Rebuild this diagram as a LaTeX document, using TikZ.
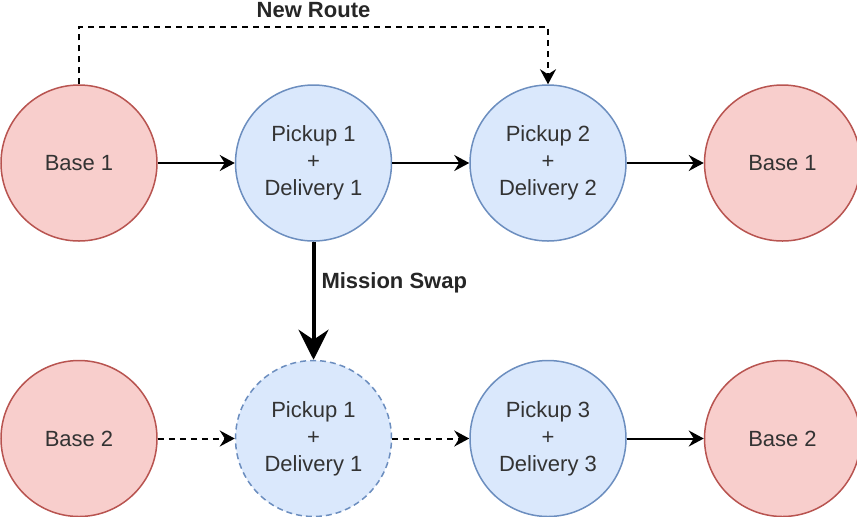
\documentclass[tikz,border=0pt]{standalone}
\usepackage{fontspec}
\setmainfont{Liberation Sans}
\usetikzlibrary{arrows.meta,positioning,calc}
\definecolor{homefill}{HTML}{F8CECC}
\definecolor{homedraw}{HTML}{B85450}
\definecolor{jobfill}{HTML}{DAE8FC}
\definecolor{jobdraw}{HTML}{6C8EBF}

\begin{document}
\begin{tikzpicture}[
    font=\fontsize{11}{13.5}\selectfont,
    text=black!80,
    node distance=59pt and 38.5pt,
    circbase/.style={circle, line width=0.75pt, minimum size=78pt, inner sep=0pt, align=center},
    home/.style={circbase, fill=homefill, draw=homedraw},
    job/.style={circbase, fill=jobfill, draw=jobdraw},
    jobghost/.style={job, dashed, dash pattern=on 3pt off 2pt},
    arrow/.style={-{Stealth[length=7.5pt, width=8pt, inset=2.5pt]}, line width=1pt, draw=black},
    dasharrow/.style={arrow, dash pattern=on 3pt off 2.5pt},
    swaparrow/.style={-{Stealth[length=15pt, width=15pt, inset=5pt]}, line width=2pt, draw=black},
    tag/.style={font=\fontsize{11}{13.5}\selectfont\bfseries, text=black!85, inner sep=0pt},
]
\useasboundingbox (0,0) rectangle (428.5pt,-258pt);
\node[home] (b1) at (39.5pt,-81.5pt) {Base 1};
\node[job, right=of b1]  (p1) {Pickup 1\\+\\Delivery 1};
\node[job, right=of p1]  (p2) {Pickup 2\\+\\Delivery 2};
\node[home, right=of p2] (e1) {Base 1};
\node[home, below=of b1] (b2) {Base 2};
\node[jobghost, below=of p1] (q1) {Pickup 1\\+\\Delivery 1};
\node[job, right=of q1]  (p3) {Pickup 3\\+\\Delivery 3};
\node[home, right=of p3] (e2) {Base 2};
% top route
\draw[arrow] (b1) -- (p1);
\draw[arrow] (p1) -- (p2);
\draw[arrow] (p2) -- (e1);
% reroute after swap
\coordinate (rt) at ([yshift=28.5pt]b1.north);
\draw[dasharrow] (b1.north) -- (rt) -| (p2.north);
\node[tag, anchor=base] at ([yshift=5pt]rt -| p1) {New Route};
\draw[swaparrow] (p1) -- node[tag, pos=0.35, right=3pt] {Mission Swap} (q1);
% bottom route
\draw[dasharrow] (b2) -- (q1);
\draw[dasharrow] (q1) -- (p3);
\draw[arrow] (p3) -- (e2);
\end{tikzpicture}
\end{document}
